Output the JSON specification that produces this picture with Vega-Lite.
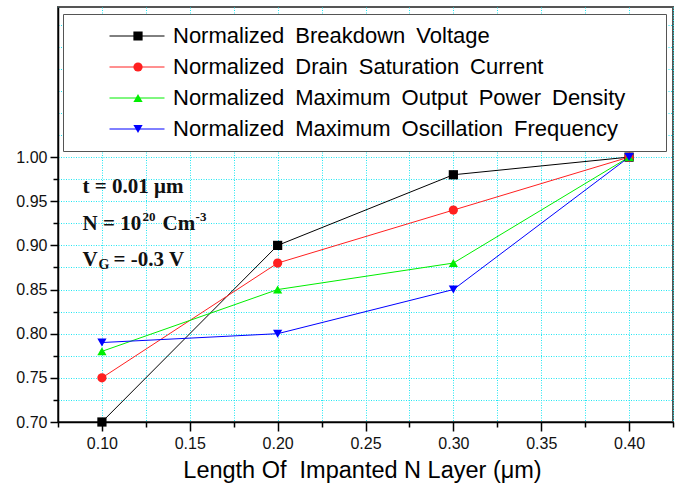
{
  "$schema": "https://vega.github.io/schema/vega-lite/v6.json",
  "width": 615,
  "height": 415,
  "autosize": {"type": "none"},
  "padding": {"left": 58, "top": 7, "right": 13, "bottom": 67},
  "background": "white",
  "config": {
    "view": {"stroke": "#555555", "strokeWidth": 2},
    "font": "Liberation Sans"
  },
  "data": {"values": [
    {"len": 0.1, "value": 0.70, "series": "Normalized Breakdown Voltage"},
    {"len": 0.2, "value": 0.90, "series": "Normalized Breakdown Voltage"},
    {"len": 0.3, "value": 0.98, "series": "Normalized Breakdown Voltage"},
    {"len": 0.4, "value": 1.00, "series": "Normalized Breakdown Voltage"},
    {"len": 0.1, "value": 0.75, "series": "Normalized Drain Saturation Current"},
    {"len": 0.2, "value": 0.88, "series": "Normalized Drain Saturation Current"},
    {"len": 0.3, "value": 0.94, "series": "Normalized Drain Saturation Current"},
    {"len": 0.4, "value": 1.00, "series": "Normalized Drain Saturation Current"},
    {"len": 0.1, "value": 0.78, "series": "Normalized Maximum Output Power Density"},
    {"len": 0.2, "value": 0.85, "series": "Normalized Maximum Output Power Density"},
    {"len": 0.3, "value": 0.88, "series": "Normalized Maximum Output Power Density"},
    {"len": 0.4, "value": 1.00, "series": "Normalized Maximum Output Power Density"},
    {"len": 0.1, "value": 0.79, "series": "Normalized Maximum Oscillation Frequency"},
    {"len": 0.2, "value": 0.80, "series": "Normalized Maximum Oscillation Frequency"},
    {"len": 0.3, "value": 0.85, "series": "Normalized Maximum Oscillation Frequency"},
    {"len": 0.4, "value": 1.00, "series": "Normalized Maximum Oscillation Frequency"}
  ]},
  "encoding": {
    "x": {
      "field": "len", "type": "quantitative",
      "scale": {"domain": [0.075, 0.425], "nice": false, "zero": false},
      "axis": {
        "title": "Length Of\u00a0 Impanted N Layer (\u03bcm)",
        "titleFont": "Liberation Sans", "titleFontSize": 23.5, "titleFontWeight": "normal", "titleColor": "black", "titlePadding": 7, "titleX": 304,
        "values": [0.075, 0.1, 0.125, 0.15, 0.175, 0.2, 0.225, 0.25, 0.275, 0.3, 0.325, 0.35, 0.375, 0.4, 0.425],
        "labelExpr": "abs(datum.value*20 - round(datum.value*20)) < 0.001 ? format(datum.value, '.2f') : ''",
        "labelFontSize": 16, "labelColor": "#111111", "labelPadding": 4, "labelFlush": false,
        "tickSize": {"condition": {"test": "abs(datum.value*20 - round(datum.value*20)) < 0.001", "value": 9}, "value": 5},
        "tickColor": "black", "tickWidth": 1.5,
        "domainColor": "black", "domainWidth": 1.5,
        "grid": true, "gridColor": "#22e6f2", "gridDash": [1, 1.5], "gridWidth": 1
      }
    },
    "y": {
      "field": "value", "type": "quantitative",
      "scale": {"domain": [0.70, 1.17], "nice": false, "zero": false},
      "axis": {
        "title": null,
        "values": [0.7, 0.725, 0.75, 0.775, 0.8, 0.825, 0.85, 0.875, 0.9, 0.925, 0.95, 0.975, 1.0, 1.025, 1.05, 1.075, 1.1, 1.125, 1.15],
        "labelExpr": "datum.value < 1.001 && abs(datum.value*20 - round(datum.value*20)) < 0.001 ? format(datum.value, '.2f') : ''",
        "labelFontSize": 16, "labelColor": "#111111", "labelPadding": 3, "labelFlush": false,
        "tickSize": {"condition": {"test": "abs(datum.value*20 - round(datum.value*20)) < 0.001", "value": 8}, "value": 5},
        "tickOpacity": {"condition": {"test": "datum.value > 1.001", "value": 0}, "value": 1},
        "tickColor": "black", "tickWidth": 1.5,
        "domainColor": "black", "domainWidth": 1.5,
        "grid": true, "gridColor": "#22e6f2", "gridDash": [1, 1.5], "gridWidth": 1
      }
    }
  },
  "layer": [
    {
      "mark": {"type": "line", "strokeWidth": 1},
      "encoding": {
        "color": {
          "field": "series", "type": "nominal",
          "scale": {
            "domain": ["Normalized Breakdown Voltage", "Normalized Drain Saturation Current", "Normalized Maximum Output Power Density", "Normalized Maximum Oscillation Frequency"],
            "range": ["#000000", "#ff2020", "#00ee00", "#0000ff"]
          },
          "legend": {
            "orient": "none", "legendX": 5, "legendY": 7, "direction": "vertical",
            "title": ".", "titleColor": "white", "titleOrient": "right", "titlePadding": 26, "titleFontSize": 12,
            "padding": 11, "fillColor": "white", "strokeColor": "#555555",
            "symbolType": "stroke", "symbolSize": 3025, "symbolStrokeWidth": 1,
            "symbolOffset": 35, "labelOffset": 8, "clipHeight": 22,
            "labelFont": "Liberation Sans", "labelFontSize": 22, "labelColor": "black", "labelLimit": 1000,
            "rowPadding": 9,
            "labelExpr": "replace(datum.label, regexp(' ', 'g'), '\u2002')"
          }
        }
      }
    },
    {
      "mark": {"type": "point", "filled": true, "size": 85, "opacity": 1},
      "encoding": {
        "fill": {
          "field": "series", "type": "nominal",
          "scale": {"range": ["#000000", "#ff2020", "#0000ff", "#00ee00"]},
          "legend": {
            "orient": "none", "legendX": 5, "legendY": 7, "direction": "vertical",
            "title": null, "padding": 11,
            "values": ["Normalized Breakdown Voltage", "Normalized Drain Saturation Current", "Normalized Maximum Output Power Density", "Normalized Maximum Oscillation Frequency"],
            "symbolSize": 85, "symbolOffset": 53, "labelOffset": 25, "clipHeight": 22,
            "labelFont": "Liberation Sans", "labelFontSize": 22, "labelOpacity": 0, "labelLimit": 1000,
            "rowPadding": 9,
            "labelExpr": "replace(datum.label, regexp(' ', 'g'), '\u2002')"
          }
        },
        "shape": {
          "field": "series", "type": "nominal",
          "scale": {"range": ["square", "circle", "triangle-down", "triangle-up"]},
          "legend": {
            "orient": "none", "legendX": 5, "legendY": 7, "direction": "vertical",
            "title": null, "padding": 11,
            "values": ["Normalized Breakdown Voltage", "Normalized Drain Saturation Current", "Normalized Maximum Output Power Density", "Normalized Maximum Oscillation Frequency"],
            "symbolSize": 85, "symbolOffset": 53, "labelOffset": 25, "clipHeight": 22,
            "labelFont": "Liberation Sans", "labelFontSize": 22, "labelOpacity": 0, "labelLimit": 1000,
            "rowPadding": 9,
            "labelExpr": "replace(datum.label, regexp(' ', 'g'), '\u2002')"
          }
        }
      }
    },
    {
      "data": {"values": [
        {"note": "t = 0.01 \u03bcm", "len": 0.089, "value": 0.966},
        {"note": "N = 10", "len": 0.089, "value": 0.924},
        {"note": "V", "len": 0.089, "value": 0.883}
      ]},
      "mark": {"type": "text", "align": "left", "baseline": "middle", "font": "Liberation Serif", "fontWeight": "bold", "fontSize": 21, "color": "#111111"},
      "encoding": {"text": {"field": "note"}}
    },
    {
      "data": {"values": [{"note": "20", "len": 0.089, "value": 0.924}]},
      "mark": {"type": "text", "align": "left", "baseline": "middle", "font": "Liberation Serif", "fontWeight": "bold", "fontSize": 13, "dx": 60, "dy": -7, "color": "#111111"},
      "encoding": {"text": {"field": "note"}}
    },
    {
      "data": {"values": [{"note": "Cm", "len": 0.089, "value": 0.924}]},
      "mark": {"type": "text", "align": "left", "baseline": "middle", "font": "Liberation Serif", "fontWeight": "bold", "fontSize": 21, "dx": 80, "color": "#111111"},
      "encoding": {"text": {"field": "note"}}
    },
    {
      "data": {"values": [{"note": "-3", "len": 0.089, "value": 0.924}]},
      "mark": {"type": "text", "align": "left", "baseline": "middle", "font": "Liberation Serif", "fontWeight": "bold", "fontSize": 13, "dx": 113, "dy": -7, "color": "#111111"},
      "encoding": {"text": {"field": "note"}}
    },
    {
      "data": {"values": [{"note": "G", "len": 0.089, "value": 0.883}]},
      "mark": {"type": "text", "align": "left", "baseline": "middle", "font": "Liberation Serif", "fontWeight": "bold", "fontSize": 14, "dx": 16, "dy": 5, "color": "#111111"},
      "encoding": {"text": {"field": "note"}}
    },
    {
      "data": {"values": [{"note": "= -0.3 V", "len": 0.089, "value": 0.883}]},
      "mark": {"type": "text", "align": "left", "baseline": "middle", "font": "Liberation Serif", "fontWeight": "bold", "fontSize": 21, "dx": 31, "color": "#111111"},
      "encoding": {"text": {"field": "note"}}
    }
  ]
}
